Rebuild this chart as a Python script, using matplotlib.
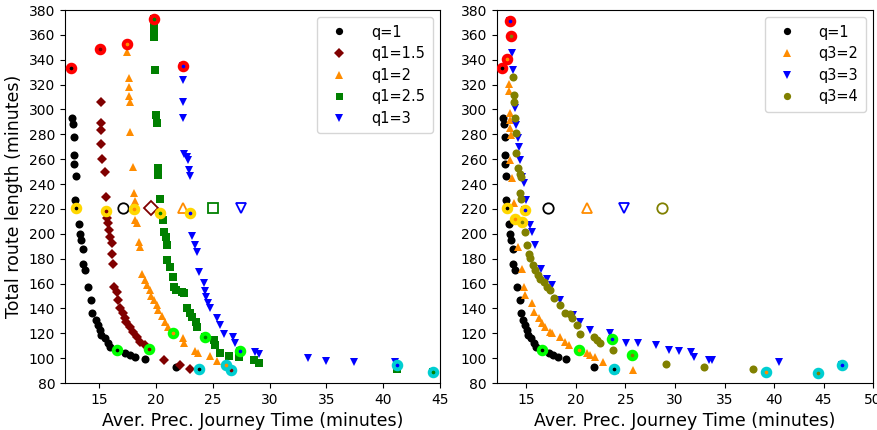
import matplotlib
matplotlib.use("Agg")
import matplotlib.pyplot as plt

# ---------------- data ----------------
# shared series q=1 (black)
q1_x = [12.5, 12.6, 12.7, 12.8, 12.8, 12.8, 12.95, 12.9, 13.0, 13.2, 13.3, 13.4, 13.6, 13.6, 13.8, 14.0,
        14.3, 14.4, 14.7, 14.9, 15.1, 15.2, 15.5, 15.8, 16.0, 16.6, 17.3, 17.7, 18.2, 19.0, 21.8, 23.8]
q1_y = [333, 293, 288, 278, 263, 256, 246.5, 227.5, 220.5, 208, 200, 195, 187.5, 176, 171, 157,
        147, 136.6, 130.7, 126.7, 123, 119, 116, 112, 109, 106.5, 104, 102.5, 101, 99, 93, 91]
q1_hl = [0, 8, 25, 31]

# left panel
a15_x = [15.1, 15.15, 15.2, 15.2, 15.2, 15.3, 15.5, 15.65, 15.6, 15.7, 15.8, 15.9, 16.0, 16.1, 16.1, 16.2,
         16.3, 16.6, 16.7, 16.85, 17.1, 17.3, 17.4, 17.7, 18.0, 18.3, 18.6, 19.0, 19.4, 20.7, 22.1, 23.0, 26.6]
a15_y = [348.4, 306, 289, 283.5, 272, 260, 249.5, 230, 218, 212.5, 208.5, 203, 197.7, 193, 184, 176,
         157, 153.5, 147, 140, 136, 132, 129, 125, 121, 117, 113, 110.6, 107, 98.5, 94.5, 91, 90.5]
a15_hl = [0, 8, 28, 32]

a2_x = [17.5, 17.5, 17.6, 17.6, 17.6, 17.7, 17.7, 18.0, 18.1, 18.2, 18.1, 18.2, 18.3, 18.5, 18.6, 18.75,
        19.0, 19.2, 19.5, 19.6, 19.8, 20.1, 20.2, 20.5, 20.8, 21.1, 21.5, 22.4, 22.5, 23.4, 23.7, 24.8, 25.35, 26.2]
a2_y = [352.5, 346.5, 325, 318, 311, 306, 282, 254, 233, 226, 220, 211, 208.5, 193.7, 189.7, 168,
        163, 159, 155, 150, 147, 143, 139, 134, 129, 125, 120.5, 116, 112, 106, 104, 102, 97.5, 94.5]
a2_hl = [0, 10, 26, 33]

a25_x = [19.8, 19.85, 19.85, 19.85, 19.85, 19.9, 20.0, 20.1, 20.2, 20.2, 20.4, 20.4, 20.6, 20.7, 20.9, 21.0,
         21.0, 21.2, 21.5, 21.6, 21.8, 22.3, 22.5, 22.7, 23.0, 23.2, 23.5, 23.6, 24.35, 25.1, 25.2, 25.6,
         26.4, 27.3, 28.6, 29.1, 41.2, 44.4]
a25_y = [373, 369, 366, 362, 358, 332, 295.6, 289, 252.7, 247, 228, 216.5, 211, 201.7, 197.7, 191,
         179, 173.6, 165, 157.5, 155, 153.5, 152, 140, 136, 133, 129, 125, 117, 114.6, 110.6, 104,
         102, 100.6, 98.5, 95.8, 91, 88.6]
a25_hl = [0, 11, 28, 37]

a3_x = [22.4, 22.4, 22.4, 22.4, 22.5, 22.7, 22.8, 22.9, 22.96, 23.0, 23.2, 23.4, 23.6, 23.8, 24.2, 24.3,
        24.45, 24.6, 24.8, 25.4, 25.6, 26.0, 26.8, 27.0, 27.4, 28.7, 29.1, 33.4, 35.0, 37.4, 41.0, 41.2]
a3_y = [335, 324, 306, 293, 264.5, 262, 259, 251, 246.5, 216.5, 198, 191, 185, 169, 160.7, 154,
        149, 144, 140, 132, 126.7, 119.4, 117, 112, 106, 105, 103, 100, 97.7, 97.2, 97, 94.5]
a3_hl = [0, 9, 24, 31]

left_mean_x = [17.1, 19.6, 22.4, 25.0, 27.5]
left_mean_y = [221, 221, 221, 221, 221]

# right panel
b2_x = [13.0, 13.2, 13.2, 13.3, 13.3, 13.3, 13.4, 13.3, 13.5, 13.7, 13.8, 14.1, 14.6, 14.8, 14.9, 15.6,
        15.8, 16.3, 16.6, 16.9, 17.4, 17.6, 18.4, 18.9, 19.3, 20.3, 21.1, 21.4, 21.9, 22.7, 23.9, 25.8, 39.2]
b2_y = [341, 320.5, 315, 297, 291.6, 285, 279.5, 259, 244.7, 224.5, 211.7, 189.7, 172, 157.5, 151, 144,
        137, 132, 128, 125, 121, 120, 117, 113, 110.6, 106.5, 104, 102.5, 101, 97, 90.5, 90.5, 89.1]
b2_hl = [0, 10, 25, 32]

b3_x = [13.3, 13.5, 13.6, 13.8, 13.9, 14.1, 14.2, 14.3, 14.6, 14.8, 14.95, 14.9, 15.4, 15.6, 15.9, 16.5,
        17.1, 17.6, 18.4, 19.7, 20.4, 21.4, 23.4, 23.6, 25.1, 26.3, 28.1, 29.4, 30.4, 31.6, 31.9, 33.4,
        33.7, 40.5, 46.9]
b3_y = [371.5, 345.8, 331.8, 301, 287.6, 276.8, 270, 259, 246, 241, 227, 219, 207, 201.7, 191, 172,
        164, 159, 146.8, 134.7, 129.3, 122.6, 120.5, 115.4, 112, 112, 110.6, 106.5, 105.7, 105, 101, 98.5,
        98.5, 96.6, 94.5]
b3_hl = [0, 11, 23, 34]

b4_x = [13.4, 13.6, 13.7, 13.7, 13.8, 13.9, 13.9, 14.1, 14.3, 14.4, 14.3, 14.4, 14.6, 14.9, 15.1, 15.3,
        15.4, 15.7, 15.9, 16.2, 16.4, 16.8, 17.1, 17.4, 17.8, 18.4, 18.9, 19.4, 19.6, 20.1, 20.4, 21.8,
        22.1, 22.4, 23.7, 25.7, 29.1, 32.9, 37.9, 44.4]
b4_y = [359, 326.5, 311.7, 306.3, 293, 281.4, 264.8, 252.7, 248, 246, 232.6, 227.8, 209.8, 201.7, 191, 184,
        180.3, 175, 171, 167, 164, 161.5, 157.5, 154.8, 148, 142.7, 136, 135.5, 132, 126.7, 119.4, 117.3,
        114.6, 112, 106.5, 102.5, 95.3, 93, 91, 88.3]
b4_hl = [0, 12, 35, 39]

right_mean_x = [17.2, 21.1, 24.9, 28.7]
right_mean_y = [221, 221, 221, 221]

left_labels = ["q=1", "q1=1.5", "q1=2", "q1=2.5", "q1=3"]
right_labels = ["q=1", "q3=2", "q3=3", "q3=4"]

# ---------------- styles ----------------
ring_colors = ["red", "gold", "lime", "darkturquoise"]

left_series = [
    (q1_x, q1_y, q1_hl, "o", "black", 5.8),
    (a15_x, a15_y, a15_hl, "D", "#800000", 5.4),
    (a2_x, a2_y, a2_hl, "^", "darkorange", 6.2),
    (a25_x, a25_y, a25_hl, "s", "green", 5.6),
    (a3_x, a3_y, a3_hl, "v", "blue", 6.2),
]
right_series = [
    (q1_x, q1_y, q1_hl, "o", "black", 5.8),
    (b2_x, b2_y, b2_hl, "^", "darkorange", 6.2),
    (b3_x, b3_y, b3_hl, "v", "blue", 6.2),
    (b4_x, b4_y, b4_hl, "o", "olive", 5.8),
]

fig = plt.figure(figsize=(8.77, 4.30), dpi=100)
axL = fig.add_axes([0.0741, 0.1093, 0.4276, 0.8674])
axR = fig.add_axes([0.5664, 0.1093, 0.4291, 0.8674])


def draw(ax, series, labels, mean_x, mean_y):
    for (x, y, hl, m, c, ms), lab in zip(series, labels):
        ax.plot(x, y, linestyle="none", marker=m, color=c, markersize=ms,
                markeredgewidth=0, label=lab, zorder=2)
    for (x, y, hl, m, c, ms), mx, my in zip(series, mean_x, mean_y):
        ax.plot([mx], [my], linestyle="none", marker=m, markersize=7.5,
                markerfacecolor="none", markeredgecolor=c, markeredgewidth=1.3, zorder=3)
    for (x, y, hl, m, c, ms) in series:
        for idx, rc in zip(hl, ring_colors):
            ax.plot([x[idx]], [y[idx]], linestyle="none", marker="o", markersize=5.5,
                    markerfacecolor=c, markeredgecolor=rc, markeredgewidth=2.8, zorder=4)
    ax.set_ylim(80, 380)
    ax.set_yticks(range(80, 381, 20))
    ax.tick_params(labelsize=10)
    ax.set_xlabel("Aver. Prec. Journey Time (minutes)", fontsize=12.5)
    ax.legend(loc="upper right", fontsize=10.5, handletextpad=1.2, borderpad=0.5,
              labelspacing=0.45, handlelength=2.0, markerscale=0.9)


draw(axL, left_series, left_labels, left_mean_x, left_mean_y)
draw(axR, right_series, right_labels, right_mean_x, right_mean_y)
axL.set_xlim(12, 45)
axL.set_xticks([15, 20, 25, 30, 35, 40, 45])
axR.set_xlim(12, 50)
axR.set_xticks([15, 20, 25, 30, 35, 40, 45, 50])
axL.set_ylabel("Total route length (minutes)", fontsize=12.5)

fig.savefig("out.png", dpi=100)
